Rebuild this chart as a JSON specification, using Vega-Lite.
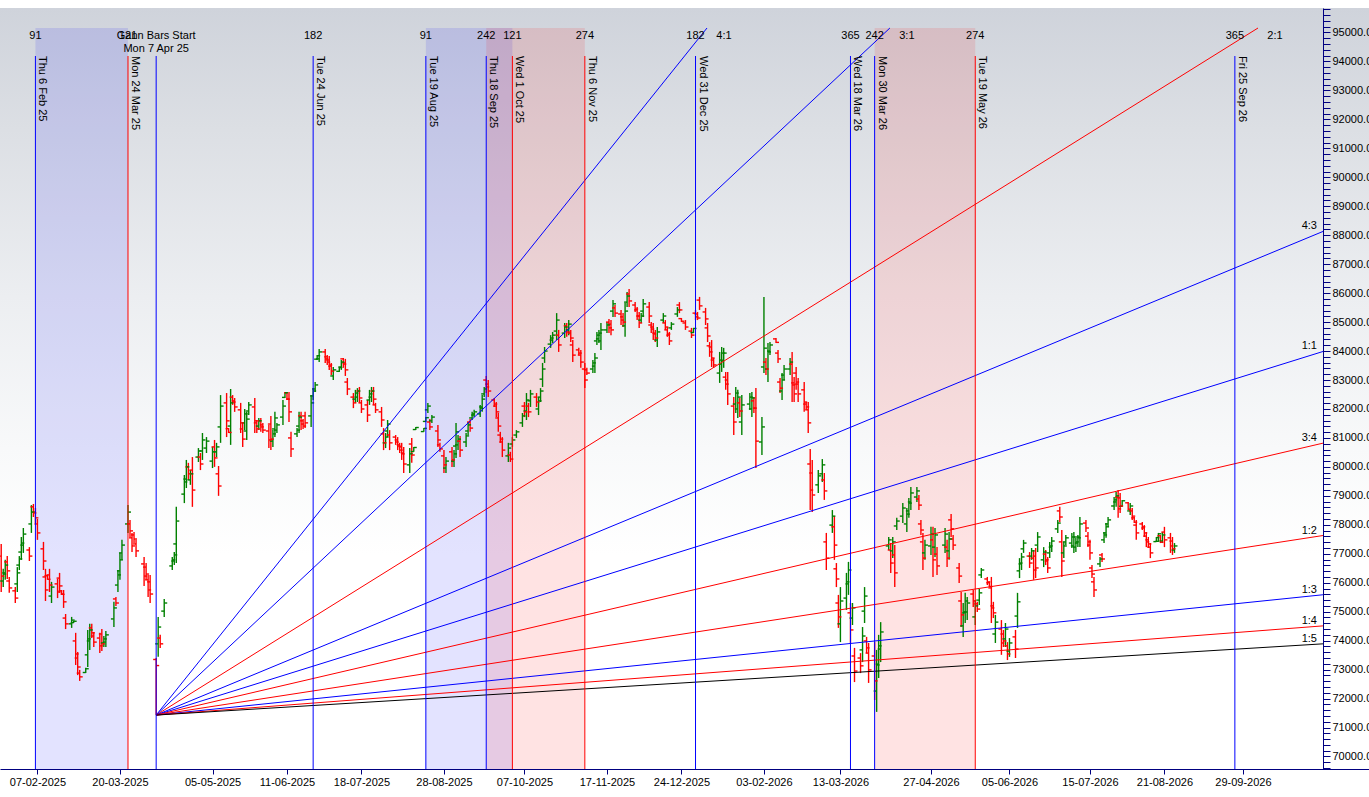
{
  "$schema": "https://vega.github.io/schema/vega-lite/v6.json",
  "width": 1369,
  "height": 761,
  "autosize": {"type": "none"},
  "padding": {"top": 8, "left": 0, "right": 0, "bottom": 28},
  "background": "#ffffff",
  "config": {
    "view": {"stroke": null, "fill": {"gradient": "linear", "x1": 0, "y1": 0, "x2": 0, "y2": 1, "stops": [{"offset": 0, "color": "#cfd3db"}, {"offset": 0.16, "color": "#dcdfe4"}, {"offset": 0.38, "color": "#eceef1"}, {"offset": 0.58, "color": "#f8f9fa"}, {"offset": 0.72, "color": "#ffffff"}]}},
    "text": {"font": "Liberation Sans", "fontSize": 11, "color": "#000000"},
    "axis": {"labelFont": "Liberation Sans", "labelFontSize": 11, "labelColor": "#000000", "domainColor": "#000080", "tickColor": "#000080", "grid": false}
  },
  "datasets": {
    "bands": [
      {"s": "2025-02-06", "e": "2025-03-24", "k": "blue"},
      {"s": "2025-08-19", "e": "2025-10-01", "k": "blue"},
      {"s": "2025-09-18", "e": "2025-11-06", "k": "red"},
      {"s": "2026-03-30", "e": "2026-05-19", "k": "red"}
    ],
    "vlines": [
      {"d": "2025-02-06", "k": "blue", "lab": "Thu 6 Feb 25", "n": "91"},
      {"d": "2025-03-24", "k": "red", "lab": "Mon 24 Mar 25", "n": "121"},
      {"d": "2025-04-07", "k": "blue", "lab": "", "n": ""},
      {"d": "2025-06-24", "k": "blue", "lab": "Tue 24 Jun 25", "n": "182"},
      {"d": "2025-08-19", "k": "blue", "lab": "Tue 19 Aug 25", "n": "91"},
      {"d": "2025-09-18", "k": "blue", "lab": "Thu 18 Sep 25", "n": "242"},
      {"d": "2025-10-01", "k": "red", "lab": "Wed 1 Oct 25", "n": "121"},
      {"d": "2025-11-06", "k": "red", "lab": "Thu 6 Nov 25", "n": "274"},
      {"d": "2025-12-31", "k": "blue", "lab": "Wed 31 Dec 25", "n": "182"},
      {"d": "2026-03-18", "k": "blue", "lab": "Wed 18 Mar 26", "n": "365"},
      {"d": "2026-03-30", "k": "blue", "lab": "Mon 30 Mar 26", "n": "242"},
      {"d": "2026-05-19", "k": "red", "lab": "Tue 19 May 26", "n": "274"},
      {"d": "2026-09-25", "k": "blue", "lab": "Fri 25 Sep 26", "n": "365"}
    ],
    "fan": [
      {"g": "4:1", "k": "blue", "d": "2025-04-07", "p": 71430},
      {"g": "4:1", "k": "blue", "d": "2026-01-05T17:00:00Z", "p": 95155, "lab": "4:1"},
      {"g": "3:1", "k": "blue", "d": "2025-04-07", "p": 71430},
      {"g": "3:1", "k": "blue", "d": "2026-04-06T14:00:00Z", "p": 95155, "lab": "3:1"},
      {"g": "2:1", "k": "red", "d": "2025-04-07", "p": 71430},
      {"g": "2:1", "k": "red", "d": "2026-10-06T12:00:00Z", "p": 95155, "lab": "2:1"},
      {"g": "4:3", "k": "blue", "d": "2025-04-07", "p": 71430},
      {"g": "4:3", "k": "blue", "d": "2026-11-07T19:00:00Z", "p": 88130, "lab": "4:3"},
      {"g": "1:1", "k": "blue", "d": "2025-04-07", "p": 71430},
      {"g": "1:1", "k": "blue", "d": "2026-11-07T19:00:00Z", "p": 83985, "lab": "1:1"},
      {"g": "3:4", "k": "red", "d": "2025-04-07", "p": 71430},
      {"g": "3:4", "k": "red", "d": "2026-11-07T19:00:00Z", "p": 80820, "lab": "3:4"},
      {"g": "1:2", "k": "red", "d": "2025-04-07", "p": 71430},
      {"g": "1:2", "k": "red", "d": "2026-11-07T19:00:00Z", "p": 77630, "lab": "1:2"},
      {"g": "1:3", "k": "blue", "d": "2025-04-07", "p": 71430},
      {"g": "1:3", "k": "blue", "d": "2026-11-07T19:00:00Z", "p": 75585, "lab": "1:3"},
      {"g": "1:4", "k": "red", "d": "2025-04-07", "p": 71430},
      {"g": "1:4", "k": "red", "d": "2026-11-07T19:00:00Z", "p": 74510, "lab": "1:4"},
      {"g": "1:5", "k": "black", "d": "2025-04-07", "p": 71430},
      {"g": "1:5", "k": "black", "d": "2026-11-07T19:00:00Z", "p": 73890, "lab": "1:5"}
    ],
    "ohlc": [
      {"d":"2025-01-20","o":76920,"h":77340,"l":75680,"c":76230},
      {"d":"2025-01-21","o":76060,"h":76480,"l":75850,"c":76300},
      {"d":"2025-01-22","o":76340,"h":76790,"l":76100,"c":76610},
      {"d":"2025-01-23","o":76720,"h":76920,"l":76130,"c":76410},
      {"d":"2025-01-24","o":76060,"h":76200,"l":75650,"c":75820},
      {"d":"2025-01-27","o":75720,"h":75850,"l":75300,"c":75470},
      {"d":"2025-01-28","o":75960,"h":76540,"l":75680,"c":76340},
      {"d":"2025-01-29","o":76610,"h":76920,"l":76440,"c":76820},
      {"d":"2025-01-30","o":77060,"h":77580,"l":76790,"c":77370},
      {"d":"2025-01-31","o":77300,"h":77890,"l":77030,"c":77680},
      {"d":"2025-02-03","o":77130,"h":77230,"l":76750,"c":76920},
      {"d":"2025-02-04","o":78030,"h":78680,"l":77720,"c":78440},
      {"d":"2025-02-05","o":78620,"h":78720,"l":78270,"c":78410},
      {"d":"2025-02-06","o":78440,"h":78580,"l":78060,"c":78240},
      {"d":"2025-02-07","o":78030,"h":78200,"l":77480,"c":77720},
      {"d":"2025-02-10","o":77170,"h":77410,"l":76440,"c":76750},
      {"d":"2025-02-11","o":76200,"h":76480,"l":75370,"c":75750},
      {"d":"2025-02-12","o":76240,"h":76270,"l":76100,"c":76120},
      {"d":"2025-02-13","o":76270,"h":76480,"l":75680,"c":75920},
      {"d":"2025-02-14","o":75540,"h":76030,"l":75300,"c":75850},
      {"d":"2025-02-17","o":75960,"h":76130,"l":75470,"c":75680},
      {"d":"2025-02-18","o":76160,"h":76340,"l":75650,"c":75890},
      {"d":"2025-02-19","o":75720,"h":75750,"l":75580,"c":75600},
      {"d":"2025-02-20","o":75610,"h":75750,"l":75130,"c":75340},
      {"d":"2025-02-21","o":74780,"h":74920,"l":74400,"c":74580},
      {"d":"2025-02-24","o":74580,"h":74820,"l":74440,"c":74710},
      {"d":"2025-02-25","o":74620,"h":74680,"l":74610,"c":74670},
      {"d":"2025-02-26","o":73990,"h":74270,"l":73160,"c":73540},
      {"d":"2025-02-27","o":73400,"h":73610,"l":72810,"c":73090},
      {"d":"2025-02-28","o":72880,"h":72990,"l":72610,"c":72750},
      {"d":"2025-03-03","o":72900,"h":73060,"l":72880,"c":73030},
      {"d":"2025-03-04","o":73510,"h":74370,"l":73090,"c":74060},
      {"d":"2025-03-05","o":73990,"h":74580,"l":73680,"c":74370},
      {"d":"2025-03-06","o":74440,"h":74580,"l":74090,"c":74270},
      {"d":"2025-03-07","o":74160,"h":74300,"l":73780,"c":73950},
      {"d":"2025-03-10","o":74090,"h":74270,"l":73570,"c":73820},
      {"d":"2025-03-11","o":74230,"h":74400,"l":73640,"c":73890},
      {"d":"2025-03-12","o":73920,"h":74160,"l":73780,"c":74060},
      {"d":"2025-03-13","o":73950,"h":74330,"l":73780,"c":74200},
      {"d":"2025-03-17","o":74750,"h":75340,"l":74470,"c":75130},
      {"d":"2025-03-18","o":75440,"h":75510,"l":75200,"c":75300},
      {"d":"2025-03-19","o":75920,"h":76440,"l":75680,"c":76270},
      {"d":"2025-03-20","o":76410,"h":77030,"l":76100,"c":76790},
      {"d":"2025-03-21","o":77030,"h":77480,"l":76790,"c":77300},
      {"d":"2025-03-24","o":78030,"h":78680,"l":77720,"c":78440},
      {"d":"2025-03-25","o":78030,"h":78170,"l":77580,"c":77790},
      {"d":"2025-03-26","o":77550,"h":77720,"l":77060,"c":77270},
      {"d":"2025-03-27","o":77650,"h":77750,"l":77370,"c":77510},
      {"d":"2025-03-28","o":77340,"h":77480,"l":76890,"c":77100},
      {"d":"2025-04-01","o":76650,"h":76890,"l":75890,"c":76230},
      {"d":"2025-04-02","o":76540,"h":76680,"l":76100,"c":76300},
      {"d":"2025-04-03","o":76100,"h":76270,"l":75510,"c":75750},
      {"d":"2025-04-04","o":76030,"h":76270,"l":75300,"c":75610},
      {"d":"2025-04-07","o":73350,"h":73400,"l":71430,"c":73140},
      {"d":"2025-04-08","o":73890,"h":74820,"l":73440,"c":74470},
      {"d":"2025-04-09","o":74090,"h":74200,"l":73750,"c":73890},
      {"d":"2025-04-11","o":75020,"h":75440,"l":74820,"c":75300},
      {"d":"2025-04-15","o":76580,"h":76890,"l":76440,"c":76790},
      {"d":"2025-04-16","o":76750,"h":77060,"l":76610,"c":76960},
      {"d":"2025-04-17","o":77340,"h":78620,"l":76680,"c":78130},
      {"d":"2025-04-21","o":79060,"h":79720,"l":78750,"c":79480},
      {"d":"2025-04-22","o":79580,"h":80240,"l":79270,"c":80000},
      {"d":"2025-04-23","o":80000,"h":80140,"l":79550,"c":79760},
      {"d":"2025-04-24","o":79550,"h":79890,"l":79380,"c":79760},
      {"d":"2025-04-25","o":79890,"h":80340,"l":78620,"c":79200},
      {"d":"2025-04-28","o":80340,"h":80650,"l":80170,"c":80550},
      {"d":"2025-04-29","o":80340,"h":80480,"l":79890,"c":80100},
      {"d":"2025-04-30","o":80550,"h":81170,"l":80240,"c":80930},
      {"d":"2025-05-02","o":80650,"h":81030,"l":80480,"c":80890},
      {"d":"2025-05-05","o":80200,"h":80690,"l":79960,"c":80520},
      {"d":"2025-05-06","o":80690,"h":80930,"l":80000,"c":80310},
      {"d":"2025-05-07","o":80520,"h":80830,"l":80340,"c":80690},
      {"d":"2025-05-08","o":79760,"h":80030,"l":79000,"c":79340},
      {"d":"2025-05-09","o":81380,"h":82480,"l":80830,"c":82100},
      {"d":"2025-05-12","o":82210,"h":82550,"l":81030,"c":81590},
      {"d":"2025-05-13","o":81320,"h":81340,"l":81170,"c":81190},
      {"d":"2025-05-14","o":81410,"h":82690,"l":80760,"c":82210},
      {"d":"2025-05-15","o":82410,"h":82480,"l":82140,"c":82240},
      {"d":"2025-05-16","o":82280,"h":82380,"l":81900,"c":82070},
      {"d":"2025-05-19","o":81970,"h":82210,"l":81170,"c":81520},
      {"d":"2025-05-20","o":81310,"h":81520,"l":80690,"c":80960},
      {"d":"2025-05-21","o":81520,"h":82000,"l":81270,"c":81830},
      {"d":"2025-05-22","o":81240,"h":81900,"l":80930,"c":81650},
      {"d":"2025-05-23","o":81930,"h":82240,"l":81790,"c":82140},
      {"d":"2025-05-26","o":82070,"h":82380,"l":81170,"c":81590},
      {"d":"2025-05-27","o":81520,"h":81620,"l":81170,"c":81310},
      {"d":"2025-05-28","o":81410,"h":81690,"l":81270,"c":81590},
      {"d":"2025-05-29","o":81590,"h":81690,"l":81210,"c":81380},
      {"d":"2025-05-30","o":81450,"h":81520,"l":81170,"c":81270},
      {"d":"2025-06-02","o":81240,"h":81450,"l":80650,"c":80930},
      {"d":"2025-06-03","o":81480,"h":81760,"l":80580,"c":80960},
      {"d":"2025-06-04","o":80890,"h":81270,"l":80690,"c":81140},
      {"d":"2025-06-05","o":81310,"h":81900,"l":81030,"c":81690},
      {"d":"2025-06-06","o":81270,"h":81520,"l":81170,"c":81450},
      {"d":"2025-06-09","o":81720,"h":82310,"l":81450,"c":82100},
      {"d":"2025-06-10","o":82400,"h":82590,"l":82380,"c":82560},
      {"d":"2025-06-11","o":82560,"h":82590,"l":82310,"c":82340},
      {"d":"2025-06-12","o":82340,"h":82590,"l":81550,"c":81900},
      {"d":"2025-06-13","o":81000,"h":81210,"l":80340,"c":80620},
      {"d":"2025-06-16","o":81140,"h":81340,"l":81030,"c":81270},
      {"d":"2025-06-17","o":81410,"h":81900,"l":81170,"c":81720},
      {"d":"2025-06-18","o":81760,"h":81900,"l":81270,"c":81480},
      {"d":"2025-06-19","o":81590,"h":81650,"l":81310,"c":81410},
      {"d":"2025-06-20","o":81760,"h":81900,"l":81340,"c":81520},
      {"d":"2025-06-23","o":81760,"h":82480,"l":81380,"c":82210},
      {"d":"2025-06-24","o":82450,"h":82720,"l":82310,"c":82620},
      {"d":"2025-06-25","o":82690,"h":82930,"l":82590,"c":82830},
      {"d":"2025-06-26","o":83720,"h":83860,"l":83690,"c":83840},
      {"d":"2025-06-27","o":83730,"h":84070,"l":83620,"c":83970},
      {"d":"2025-06-30","o":83970,"h":84070,"l":83590,"c":83730},
      {"d":"2025-07-01","o":83800,"h":83860,"l":83520,"c":83620},
      {"d":"2025-07-02","o":83690,"h":83830,"l":83350,"c":83520},
      {"d":"2025-07-03","o":83480,"h":83590,"l":83170,"c":83310},
      {"d":"2025-07-04","o":83140,"h":83450,"l":83000,"c":83350},
      {"d":"2025-07-07","o":83300,"h":83450,"l":83280,"c":83430},
      {"d":"2025-07-08","o":83450,"h":83690,"l":83350,"c":83620},
      {"d":"2025-07-09","o":83730,"h":83760,"l":83420,"c":83550},
      {"d":"2025-07-10","o":83590,"h":83730,"l":83140,"c":83350},
      {"d":"2025-07-11","o":82930,"h":83070,"l":82480,"c":82690},
      {"d":"2025-07-14","o":82410,"h":82550,"l":82030,"c":82210},
      {"d":"2025-07-15","o":82340,"h":82660,"l":82210,"c":82550},
      {"d":"2025-07-16","o":82410,"h":82720,"l":82240,"c":82620},
      {"d":"2025-07-17","o":82620,"h":82760,"l":82210,"c":82380},
      {"d":"2025-07-18","o":82210,"h":82310,"l":81860,"c":82000},
      {"d":"2025-07-21","o":82140,"h":82310,"l":81550,"c":81790},
      {"d":"2025-07-22","o":82310,"h":82660,"l":82140,"c":82520},
      {"d":"2025-07-23","o":82410,"h":82760,"l":82240,"c":82620},
      {"d":"2025-07-24","o":82620,"h":82760,"l":82140,"c":82340},
      {"d":"2025-07-25","o":82140,"h":82210,"l":81860,"c":81970},
      {"d":"2025-07-28","o":81900,"h":82070,"l":81380,"c":81620},
      {"d":"2025-07-29","o":81140,"h":81340,"l":80580,"c":80830},
      {"d":"2025-07-30","o":80830,"h":81170,"l":80650,"c":81030},
      {"d":"2025-07-31","o":81240,"h":81620,"l":81030,"c":81480},
      {"d":"2025-08-01","o":81100,"h":81270,"l":80580,"c":80830},
      {"d":"2025-08-04","o":81030,"h":81100,"l":80760,"c":80860},
      {"d":"2025-08-05","o":80930,"h":81030,"l":80580,"c":80720},
      {"d":"2025-08-06","o":80760,"h":80830,"l":80480,"c":80580},
      {"d":"2025-08-07","o":80690,"h":80830,"l":80240,"c":80450},
      {"d":"2025-08-08","o":80480,"h":80690,"l":79790,"c":80100},
      {"d":"2025-08-11","o":80070,"h":80650,"l":79790,"c":80450},
      {"d":"2025-08-12","o":80790,"h":81000,"l":80140,"c":80410},
      {"d":"2025-08-13","o":80530,"h":80690,"l":80520,"c":80670},
      {"d":"2025-08-14","o":81290,"h":81380,"l":81270,"c":81360},
      {"d":"2025-08-18","o":81220,"h":81340,"l":81210,"c":81330},
      {"d":"2025-08-19","o":81570,"h":81720,"l":81550,"c":81700},
      {"d":"2025-08-20","o":81970,"h":82210,"l":81860,"c":82100},
      {"d":"2025-08-21","o":81550,"h":81650,"l":81270,"c":81380},
      {"d":"2025-08-22","o":81590,"h":81790,"l":81520,"c":81720},
      {"d":"2025-08-25","o":81240,"h":81450,"l":80690,"c":80930},
      {"d":"2025-08-26","o":80760,"h":80830,"l":80520,"c":80620},
      {"d":"2025-08-28","o":80380,"h":80580,"l":79790,"c":80070},
      {"d":"2025-08-29","o":79960,"h":80340,"l":79790,"c":80200},
      {"d":"2025-09-01","o":80520,"h":80690,"l":80000,"c":80240},
      {"d":"2025-09-02","o":80200,"h":80580,"l":80000,"c":80450},
      {"d":"2025-09-03","o":80720,"h":81520,"l":80310,"c":81210},
      {"d":"2025-09-04","o":80760,"h":81100,"l":80580,"c":80960},
      {"d":"2025-09-05","o":80890,"h":81070,"l":80340,"c":80580},
      {"d":"2025-09-08","o":80860,"h":81170,"l":80690,"c":81070},
      {"d":"2025-09-09","o":81240,"h":81550,"l":81100,"c":81450},
      {"d":"2025-09-10","o":81550,"h":81650,"l":81210,"c":81340},
      {"d":"2025-09-11","o":81690,"h":81900,"l":81620,"c":81830},
      {"d":"2025-09-12","o":81790,"h":81970,"l":81720,"c":81900},
      {"d":"2025-09-15","o":81830,"h":82140,"l":81720,"c":82030},
      {"d":"2025-09-16","o":82070,"h":82480,"l":81900,"c":82340},
      {"d":"2025-09-17","o":82520,"h":82760,"l":82410,"c":82690},
      {"d":"2025-09-18","o":83000,"h":83140,"l":82550,"c":82760},
      {"d":"2025-09-19","o":82860,"h":83000,"l":82410,"c":82620},
      {"d":"2025-09-22","o":82310,"h":82380,"l":82070,"c":82170},
      {"d":"2025-09-23","o":82100,"h":82240,"l":81720,"c":81900},
      {"d":"2025-09-24","o":81690,"h":81860,"l":81210,"c":81410},
      {"d":"2025-09-25","o":81100,"h":81210,"l":80830,"c":80960},
      {"d":"2025-09-26","o":80860,"h":81030,"l":80340,"c":80580},
      {"d":"2025-09-29","o":80380,"h":80830,"l":80170,"c":80650},
      {"d":"2025-09-30","o":80410,"h":80520,"l":80170,"c":80270},
      {"d":"2025-10-01","o":80790,"h":81030,"l":80690,"c":80930},
      {"d":"2025-10-03","o":81100,"h":81270,"l":81000,"c":81210},
      {"d":"2025-10-06","o":81520,"h":81860,"l":81380,"c":81760},
      {"d":"2025-10-07","o":82100,"h":82240,"l":81720,"c":81900},
      {"d":"2025-10-08","o":81930,"h":82550,"l":81620,"c":82310},
      {"d":"2025-10-09","o":82100,"h":82210,"l":81720,"c":81900},
      {"d":"2025-10-10","o":82280,"h":82660,"l":82070,"c":82520},
      {"d":"2025-10-13","o":82410,"h":82550,"l":82070,"c":82240},
      {"d":"2025-10-14","o":82000,"h":82410,"l":81790,"c":82280},
      {"d":"2025-10-15","o":82410,"h":82720,"l":82240,"c":82620},
      {"d":"2025-10-16","o":83030,"h":83590,"l":82760,"c":83380},
      {"d":"2025-10-17","o":83760,"h":84140,"l":83590,"c":84000},
      {"d":"2025-10-20","o":84240,"h":84550,"l":84110,"c":84450},
      {"d":"2025-10-21","o":84380,"h":84660,"l":84280,"c":84550},
      {"d":"2025-10-23","o":84690,"h":85310,"l":84380,"c":85070},
      {"d":"2025-10-24","o":84550,"h":84730,"l":83970,"c":84210},
      {"d":"2025-10-27","o":84620,"h":84970,"l":84450,"c":84830},
      {"d":"2025-10-28","o":84870,"h":84970,"l":84490,"c":84660},
      {"d":"2025-10-29","o":84730,"h":85070,"l":84550,"c":84930},
      {"d":"2025-10-30","o":84620,"h":84730,"l":84310,"c":84450},
      {"d":"2025-10-31","o":84210,"h":84380,"l":83620,"c":83860},
      {"d":"2025-11-03","o":84040,"h":84110,"l":83860,"c":83930},
      {"d":"2025-11-04","o":83860,"h":84040,"l":83420,"c":83620},
      {"d":"2025-11-06","o":83380,"h":83590,"l":82720,"c":83000},
      {"d":"2025-11-07","o":83350,"h":83420,"l":83170,"c":83240},
      {"d":"2025-11-10","o":83380,"h":83690,"l":83240,"c":83590},
      {"d":"2025-11-11","o":83480,"h":83930,"l":83240,"c":83760},
      {"d":"2025-11-12","o":84350,"h":84660,"l":84210,"c":84550},
      {"d":"2025-11-13","o":84420,"h":84730,"l":84280,"c":84620},
      {"d":"2025-11-14","o":84350,"h":84970,"l":84040,"c":84730},
      {"d":"2025-11-17","o":84730,"h":85000,"l":84620,"c":84900},
      {"d":"2025-11-18","o":85000,"h":85110,"l":84620,"c":84800},
      {"d":"2025-11-19","o":84930,"h":85070,"l":84550,"c":84730},
      {"d":"2025-11-20","o":85380,"h":85760,"l":85180,"c":85630},
      {"d":"2025-11-21","o":85490,"h":85590,"l":85180,"c":85310},
      {"d":"2025-11-24","o":85280,"h":85420,"l":84900,"c":85070},
      {"d":"2025-11-25","o":85180,"h":85310,"l":84830,"c":85000},
      {"d":"2025-11-26","o":84870,"h":85660,"l":84490,"c":85380},
      {"d":"2025-11-27","o":85690,"h":86040,"l":85520,"c":85900},
      {"d":"2025-11-28","o":85970,"h":86140,"l":85520,"c":85730},
      {"d":"2025-12-01","o":85590,"h":85690,"l":85350,"c":85450},
      {"d":"2025-12-02","o":85420,"h":85520,"l":85070,"c":85210},
      {"d":"2025-12-03","o":85210,"h":85350,"l":84800,"c":84970},
      {"d":"2025-12-04","o":85070,"h":85310,"l":84970,"c":85210},
      {"d":"2025-12-05","o":85380,"h":85800,"l":85180,"c":85630},
      {"d":"2025-12-08","o":85520,"h":85690,"l":84970,"c":85210},
      {"d":"2025-12-09","o":84900,"h":85000,"l":84620,"c":84760},
      {"d":"2025-12-10","o":84830,"h":84970,"l":84380,"c":84590},
      {"d":"2025-12-11","o":84620,"h":84730,"l":84310,"c":84450},
      {"d":"2025-12-12","o":84380,"h":84830,"l":84140,"c":84660},
      {"d":"2025-12-15","o":85070,"h":85310,"l":84970,"c":85210},
      {"d":"2025-12-16","o":84970,"h":85070,"l":84730,"c":84830},
      {"d":"2025-12-17","o":84730,"h":84830,"l":84490,"c":84590},
      {"d":"2025-12-18","o":84550,"h":84660,"l":84210,"c":84350},
      {"d":"2025-12-19","o":84800,"h":85000,"l":84730,"c":84930},
      {"d":"2025-12-22","o":85280,"h":85520,"l":85180,"c":85420},
      {"d":"2025-12-23","o":85590,"h":85690,"l":85310,"c":85420},
      {"d":"2025-12-24","o":85120,"h":85140,"l":85000,"c":85030},
      {"d":"2025-12-26","o":84970,"h":85070,"l":84730,"c":84830},
      {"d":"2025-12-29","o":84690,"h":84800,"l":84450,"c":84550},
      {"d":"2025-12-30","o":84640,"h":84800,"l":84620,"c":84780},
      {"d":"2025-12-31","o":85310,"h":85420,"l":85070,"c":85180},
      {"d":"2026-01-01","o":85280,"h":85350,"l":85070,"c":85140},
      {"d":"2026-01-02","o":85760,"h":85870,"l":85420,"c":85560},
      {"d":"2026-01-05","o":85350,"h":85490,"l":84900,"c":85110},
      {"d":"2026-01-06","o":84800,"h":84970,"l":84310,"c":84520},
      {"d":"2026-01-07","o":84180,"h":84310,"l":83800,"c":83970},
      {"d":"2026-01-08","o":84140,"h":84380,"l":83450,"c":83760},
      {"d":"2026-01-09","o":83690,"h":83760,"l":83420,"c":83520},
      {"d":"2026-01-12","o":83240,"h":83970,"l":82900,"c":83690},
      {"d":"2026-01-13","o":83550,"h":84140,"l":83280,"c":83930},
      {"d":"2026-01-14","o":83660,"h":84110,"l":83420,"c":83930},
      {"d":"2026-01-15","o":83100,"h":83280,"l":82660,"c":82860},
      {"d":"2026-01-16","o":83000,"h":83280,"l":82140,"c":82520},
      {"d":"2026-01-19","o":82100,"h":82410,"l":81100,"c":81550},
      {"d":"2026-01-20","o":82170,"h":82760,"l":81860,"c":82550},
      {"d":"2026-01-21","o":82000,"h":82660,"l":81690,"c":82410},
      {"d":"2026-01-22","o":82210,"h":82380,"l":81720,"c":81930},
      {"d":"2026-01-23","o":81550,"h":82480,"l":81100,"c":82140},
      {"d":"2026-01-27","o":82170,"h":82550,"l":81970,"c":82410},
      {"d":"2026-01-28","o":82000,"h":82590,"l":81720,"c":82380},
      {"d":"2026-01-29","o":82280,"h":82410,"l":81860,"c":82030},
      {"d":"2026-01-30","o":82030,"h":82720,"l":79960,"c":80890},
      {"d":"2026-02-02","o":80860,"h":81720,"l":80410,"c":81380},
      {"d":"2026-02-03","o":83450,"h":85870,"l":83240,"c":84100},
      {"d":"2026-02-04","o":83620,"h":83760,"l":83170,"c":83380},
      {"d":"2026-02-05","o":83380,"h":84280,"l":82930,"c":83970},
      {"d":"2026-02-06","o":84000,"h":84310,"l":83860,"c":84210},
      {"d":"2026-02-09","o":84420,"h":84450,"l":84280,"c":84300},
      {"d":"2026-02-10","o":83930,"h":84040,"l":83590,"c":83730},
      {"d":"2026-02-11","o":82930,"h":83070,"l":82550,"c":82720},
      {"d":"2026-02-12","o":82620,"h":83240,"l":82310,"c":83000},
      {"d":"2026-02-13","o":83170,"h":83520,"l":83000,"c":83380},
      {"d":"2026-02-16","o":83380,"h":83760,"l":83170,"c":83620},
      {"d":"2026-02-17","o":83550,"h":83970,"l":82240,"c":82830},
      {"d":"2026-02-18","o":82900,"h":83100,"l":82240,"c":82520},
      {"d":"2026-02-19","o":83240,"h":83450,"l":82660,"c":82930},
      {"d":"2026-02-20","o":82860,"h":83070,"l":82240,"c":82520},
      {"d":"2026-02-23","o":82660,"h":82930,"l":81900,"c":82240},
      {"d":"2026-02-24","o":82170,"h":82240,"l":81970,"c":82070},
      {"d":"2026-02-25","o":81970,"h":82240,"l":81170,"c":81520},
      {"d":"2026-02-26","o":80100,"h":80620,"l":78510,"c":79200},
      {"d":"2026-02-27","o":79790,"h":80240,"l":78440,"c":79030},
      {"d":"2026-03-02","o":79380,"h":79890,"l":79100,"c":79690},
      {"d":"2026-03-04","o":79760,"h":80270,"l":79480,"c":80070},
      {"d":"2026-03-05","o":79550,"h":79790,"l":78860,"c":79170},
      {"d":"2026-03-06","o":77410,"h":77720,"l":76440,"c":76850},
      {"d":"2026-03-09","o":77990,"h":78510,"l":77720,"c":78300},
      {"d":"2026-03-10","o":77930,"h":78300,"l":76790,"c":77300},
      {"d":"2026-03-11","o":76480,"h":76680,"l":75850,"c":76130},
      {"d":"2026-03-12","o":75300,"h":75580,"l":74440,"c":74820},
      {"d":"2026-03-13","o":74580,"h":75850,"l":73950,"c":75370},
      {"d":"2026-03-16","o":75470,"h":76340,"l":75060,"c":76030},
      {"d":"2026-03-17","o":75960,"h":76720,"l":75580,"c":76440},
      {"d":"2026-03-18","o":74960,"h":75300,"l":73920,"c":74370},
      {"d":"2026-03-19","o":74780,"h":75300,"l":74540,"c":75130},
      {"d":"2026-03-20","o":73470,"h":73750,"l":72570,"c":72950},
      {"d":"2026-03-23","o":73400,"h":73570,"l":72880,"c":73130},
      {"d":"2026-03-24","o":73680,"h":74470,"l":73260,"c":74160},
      {"d":"2026-03-25","o":75020,"h":75850,"l":74610,"c":75540},
      {"d":"2026-03-26","o":73990,"h":74130,"l":73570,"c":73750},
      {"d":"2026-03-27","o":73570,"h":73920,"l":72540,"c":72990},
      {"d":"2026-03-30","o":73470,"h":73950,"l":71950,"c":72610},
      {"d":"2026-03-31","o":72260,"h":73680,"l":71540,"c":73160},
      {"d":"2026-04-01","o":73190,"h":74200,"l":72710,"c":73820},
      {"d":"2026-04-02","o":73710,"h":74640,"l":73260,"c":74300},
      {"d":"2026-04-06","o":77270,"h":77580,"l":77130,"c":77480},
      {"d":"2026-04-07","o":77130,"h":77370,"l":76340,"c":76680},
      {"d":"2026-04-08","o":77100,"h":77580,"l":76850,"c":77410},
      {"d":"2026-04-09","o":76960,"h":77300,"l":75850,"c":76340},
      {"d":"2026-04-10","o":77960,"h":78240,"l":77820,"c":78130},
      {"d":"2026-04-13","o":78300,"h":78750,"l":78060,"c":78580},
      {"d":"2026-04-15","o":78030,"h":78580,"l":77750,"c":78370},
      {"d":"2026-04-16","o":78480,"h":78930,"l":78240,"c":78750},
      {"d":"2026-04-17","o":78790,"h":79310,"l":78510,"c":79100},
      {"d":"2026-04-20","o":78960,"h":79310,"l":78790,"c":79170},
      {"d":"2026-04-21","o":78890,"h":79030,"l":78510,"c":78680},
      {"d":"2026-04-22","o":78030,"h":78170,"l":77650,"c":77820},
      {"d":"2026-04-23","o":77410,"h":77720,"l":76440,"c":76850},
      {"d":"2026-04-24","o":77030,"h":77480,"l":76790,"c":77300},
      {"d":"2026-04-27","o":77270,"h":77930,"l":76960,"c":77680},
      {"d":"2026-04-28","o":77480,"h":77930,"l":76200,"c":76790},
      {"d":"2026-04-29","o":77230,"h":77890,"l":76890,"c":77650},
      {"d":"2026-04-30","o":76990,"h":77230,"l":76270,"c":76580},
      {"d":"2026-05-04","o":77300,"h":77890,"l":77030,"c":77680},
      {"d":"2026-05-05","o":77230,"h":77480,"l":76540,"c":76850},
      {"d":"2026-05-06","o":77100,"h":77750,"l":76790,"c":77510},
      {"d":"2026-05-07","o":78170,"h":78370,"l":77580,"c":77860},
      {"d":"2026-05-08","o":77510,"h":77650,"l":77130,"c":77300},
      {"d":"2026-05-11","o":76510,"h":76680,"l":75990,"c":76230},
      {"d":"2026-05-12","o":75370,"h":75680,"l":74470,"c":74890},
      {"d":"2026-05-13","o":74510,"h":75300,"l":74130,"c":74990},
      {"d":"2026-05-14","o":74960,"h":75650,"l":74610,"c":75370},
      {"d":"2026-05-15","o":74990,"h":75510,"l":74710,"c":75300},
      {"d":"2026-05-18","o":75610,"h":75750,"l":75160,"c":75370},
      {"d":"2026-05-19","o":74820,"h":75400,"l":74540,"c":75200},
      {"d":"2026-05-20","o":75270,"h":75340,"l":74990,"c":75090},
      {"d":"2026-05-21","o":75400,"h":75780,"l":75230,"c":75650},
      {"d":"2026-05-22","o":76270,"h":76510,"l":76160,"c":76440},
      {"d":"2026-05-25","o":76130,"h":76200,"l":75920,"c":76030},
      {"d":"2026-05-26","o":76000,"h":76030,"l":75850,"c":75870},
      {"d":"2026-05-27","o":75820,"h":76200,"l":74610,"c":75130},
      {"d":"2026-05-28","o":75200,"h":75340,"l":74780,"c":74960},
      {"d":"2026-05-29","o":74230,"h":74890,"l":73920,"c":74640},
      {"d":"2026-06-01","o":74400,"h":74710,"l":73510,"c":73920},
      {"d":"2026-06-02","o":74230,"h":74370,"l":73780,"c":73990},
      {"d":"2026-06-03","o":74060,"h":74610,"l":73780,"c":74400},
      {"d":"2026-06-04","o":73820,"h":73950,"l":73330,"c":73540},
      {"d":"2026-06-05","o":73640,"h":74090,"l":73440,"c":73920},
      {"d":"2026-06-08","o":74130,"h":74370,"l":73400,"c":73710},
      {"d":"2026-06-09","o":74850,"h":75650,"l":74440,"c":75340},
      {"d":"2026-06-10","o":76410,"h":76850,"l":76160,"c":76680},
      {"d":"2026-06-11","o":76650,"h":77030,"l":76440,"c":76890},
      {"d":"2026-06-12","o":77170,"h":77480,"l":77030,"c":77370},
      {"d":"2026-06-15","o":76920,"h":77060,"l":76510,"c":76680},
      {"d":"2026-06-16","o":76920,"h":77200,"l":76790,"c":77100},
      {"d":"2026-06-17","o":76850,"h":77130,"l":76100,"c":76440},
      {"d":"2026-06-18","o":76920,"h":77200,"l":76160,"c":76510},
      {"d":"2026-06-19","o":77300,"h":77750,"l":77060,"c":77580},
      {"d":"2026-06-22","o":76790,"h":77230,"l":76540,"c":77060},
      {"d":"2026-06-23","o":76990,"h":77130,"l":76610,"c":76790},
      {"d":"2026-06-24","o":76750,"h":76890,"l":76340,"c":76510},
      {"d":"2026-06-25","o":77030,"h":77410,"l":76850,"c":77270},
      {"d":"2026-06-26","o":77230,"h":77580,"l":77060,"c":77440},
      {"d":"2026-06-29","o":77860,"h":78170,"l":77720,"c":78060},
      {"d":"2026-06-30","o":78480,"h":78620,"l":78100,"c":78270},
      {"d":"2026-07-01","o":77410,"h":77820,"l":76200,"c":76750},
      {"d":"2026-07-02","o":77030,"h":77410,"l":76850,"c":77270},
      {"d":"2026-07-03","o":77410,"h":77650,"l":77300,"c":77550},
      {"d":"2026-07-06","o":77370,"h":77720,"l":77200,"c":77580},
      {"d":"2026-07-07","o":77270,"h":77750,"l":77030,"c":77580},
      {"d":"2026-07-08","o":77230,"h":77550,"l":77060,"c":77410},
      {"d":"2026-07-09","o":77370,"h":77650,"l":77230,"c":77550},
      {"d":"2026-07-10","o":77580,"h":78270,"l":77230,"c":78030},
      {"d":"2026-07-13","o":78060,"h":78170,"l":77750,"c":77890},
      {"d":"2026-07-14","o":77610,"h":77750,"l":77230,"c":77410},
      {"d":"2026-07-15","o":77300,"h":77480,"l":76790,"c":77030},
      {"d":"2026-07-16","o":76510,"h":76610,"l":76160,"c":76300},
      {"d":"2026-07-17","o":76030,"h":76200,"l":75510,"c":75750},
      {"d":"2026-07-20","o":76650,"h":76890,"l":76540,"c":76820},
      {"d":"2026-07-21","o":76960,"h":77030,"l":76720,"c":76820},
      {"d":"2026-07-22","o":77480,"h":77750,"l":77370,"c":77650},
      {"d":"2026-07-23","o":77720,"h":78060,"l":77550,"c":77930},
      {"d":"2026-07-24","o":78030,"h":78270,"l":77930,"c":78170},
      {"d":"2026-07-27","o":78650,"h":78960,"l":78510,"c":78860},
      {"d":"2026-07-28","o":78790,"h":79130,"l":78620,"c":79000},
      {"d":"2026-07-29","o":78960,"h":79200,"l":78240,"c":78550},
      {"d":"2026-07-30","o":78930,"h":79100,"l":78410,"c":78650},
      {"d":"2026-07-31","o":78640,"h":78860,"l":78620,"c":78830},
      {"d":"2026-08-03","o":78760,"h":78790,"l":78510,"c":78540},
      {"d":"2026-08-04","o":78480,"h":78750,"l":78340,"c":78650},
      {"d":"2026-08-05","o":78480,"h":78580,"l":78170,"c":78300},
      {"d":"2026-08-06","o":78240,"h":78270,"l":78060,"c":78090},
      {"d":"2026-08-07","o":77990,"h":78170,"l":77480,"c":77720},
      {"d":"2026-08-10","o":78030,"h":78100,"l":77820,"c":77930},
      {"d":"2026-08-11","o":77890,"h":77990,"l":77580,"c":77720},
      {"d":"2026-08-12","o":77610,"h":77750,"l":77230,"c":77410},
      {"d":"2026-08-13","o":77480,"h":77580,"l":77200,"c":77340},
      {"d":"2026-08-14","o":77230,"h":77370,"l":76850,"c":77030},
      {"d":"2026-08-17","o":77420,"h":77580,"l":77410,"c":77560},
      {"d":"2026-08-18","o":77430,"h":77720,"l":77410,"c":77690},
      {"d":"2026-08-19","o":77620,"h":77650,"l":77370,"c":77400},
      {"d":"2026-08-20","o":77440,"h":77750,"l":77370,"c":77650},
      {"d":"2026-08-21","o":77750,"h":77930,"l":77230,"c":77480},
      {"d":"2026-08-24","o":77550,"h":77720,"l":77030,"c":77270},
      {"d":"2026-08-25","o":77440,"h":77580,"l":76960,"c":77170},
      {"d":"2026-08-26","o":77130,"h":77370,"l":77030,"c":77270}
    ]
  },
  "layer": [
    {
      "data": {"name": "bands"},
      "mark": {"type": "rect", "opacity": 0.11},
      "encoding": {
        "x": {
          "field": "s", "type": "temporal", "title": null,
          "scale": {"type": "utc", "domain": [{"year": 2025, "month": 1, "date": 19, "hours": 9, "minutes": 36, "utc": true}, {"year": 2026, "month": 11, "date": 30, "hours": 15, "minutes": 36, "utc": true}]},
          "axis": {
            "values": [
              {"year": 2025, "month": 2, "date": 7, "utc": true},
              {"year": 2025, "month": 3, "date": 20, "utc": true},
              {"year": 2025, "month": 5, "date": 5, "utc": true},
              {"year": 2025, "month": 6, "date": 11, "utc": true},
              {"year": 2025, "month": 7, "date": 18, "utc": true},
              {"year": 2025, "month": 8, "date": 28, "utc": true},
              {"year": 2025, "month": 10, "date": 7, "utc": true},
              {"year": 2025, "month": 11, "date": 17, "utc": true},
              {"year": 2025, "month": 12, "date": 24, "utc": true},
              {"year": 2026, "month": 2, "date": 3, "utc": true},
              {"year": 2026, "month": 3, "date": 13, "utc": true},
              {"year": 2026, "month": 4, "date": 27, "utc": true},
              {"year": 2026, "month": 6, "date": 5, "utc": true},
              {"year": 2026, "month": 7, "date": 15, "utc": true},
              {"year": 2026, "month": 8, "date": 21, "utc": true},
              {"year": 2026, "month": 9, "date": 29, "utc": true}
            ],
            "labelExpr": "utcFormat(datum.value, '%d-%m-%Y')",
            "tickSize": 5, "labelPadding": 2, "labelOverlap": false, "labelFlush": false
          }
        },
        "x2": {"field": "e"},
        "y": {
          "datum": 95155, "type": "quantitative", "title": null,
          "scale": {"domain": [69568, 95846], "nice": false, "zero": false},
          "axis": {
            "orient": "right", "offset": -46, "tickCount": 131,
            "labelExpr": "datum.value % 1000 === 0 ? format(datum.value, '.1f') : ''",
            "labelOverlap": false, "labelFlush": false, "tickSize": 7, "labelPadding": 2,
            "encode": {"ticks": {"update": {"x2": {"signal": "datum.value % 1000 === 0 ? 7 : 3"}}}}
          }
        },
        "y2": {"datum": 69568},
        "color": {"field": "k", "type": "nominal", "legend": null, "scale": {"domain": ["blue", "red", "black"], "range": ["#0000ff", "#ff0000", "#000000"]}}
      }
    },
    {
      "data": {"name": "ohlc"},
      "mark": {"type": "rule", "strokeWidth": 1.4},
      "encoding": {
        "x": {"field": "d", "type": "temporal", "title": null},
        "y": {"field": "l", "type": "quantitative", "title": null},
        "y2": {"field": "h"},
        "color": {"condition": {"test": "datum.c >= datum.o", "value": "#008000"}, "value": "#ff0000"}
      }
    },
    {
      "data": {"name": "ohlc"},
      "mark": {"type": "rule", "strokeWidth": 1.4, "xOffset": -3, "x2Offset": 0},
      "encoding": {
        "x": {"field": "d", "type": "temporal", "title": null},
        "x2": {"field": "d"},
        "y": {"field": "o", "type": "quantitative", "title": null},
        "color": {"condition": {"test": "datum.c >= datum.o", "value": "#008000"}, "value": "#ff0000"}
      }
    },
    {
      "data": {"name": "ohlc"},
      "mark": {"type": "rule", "strokeWidth": 1.4, "xOffset": 0, "x2Offset": 3},
      "encoding": {
        "x": {"field": "d", "type": "temporal", "title": null},
        "x2": {"field": "d"},
        "y": {"field": "c", "type": "quantitative", "title": null},
        "color": {"condition": {"test": "datum.c >= datum.o", "value": "#008000"}, "value": "#ff0000"}
      }
    },
    {
      "data": {"name": "fan"},
      "mark": {"type": "line", "strokeWidth": 1},
      "encoding": {
        "x": {"field": "d", "type": "temporal", "title": null},
        "y": {"field": "p", "type": "quantitative", "title": null},
        "detail": {"field": "g"},
        "color": {"field": "k", "type": "nominal", "legend": null}
      }
    },
    {
      "data": {"name": "vlines"},
      "mark": {"type": "rule", "strokeWidth": 1},
      "encoding": {
        "x": {"field": "d", "type": "temporal", "title": null},
        "y": {"datum": 94188, "type": "quantitative"},
        "y2": {"datum": 69568},
        "color": {"field": "k", "type": "nominal", "legend": null}
      }
    },
    {
      "data": {"name": "vlines"},
      "transform": [{"filter": "datum.lab != ''"}],
      "mark": {"type": "text", "angle": 90, "align": "left", "baseline": "alphabetic", "dy": -4, "fontSize": 11},
      "encoding": {
        "x": {"field": "d", "type": "temporal", "title": null},
        "y": {"datum": 94188, "type": "quantitative"},
        "text": {"field": "lab"}
      }
    },
    {
      "data": {"name": "vlines"},
      "transform": [{"filter": "datum.n != ''"}],
      "mark": {"type": "text", "align": "center", "baseline": "middle", "fontSize": 11},
      "encoding": {
        "x": {"field": "d", "type": "temporal", "title": null},
        "y": {"datum": 94879, "type": "quantitative"},
        "text": {"field": "n"}
      }
    },
    {
      "data": {"values": [{"d": "2025-04-07", "t": "Gann Bars Start"}]},
      "mark": {"type": "text", "align": "center", "baseline": "middle", "fontSize": 11},
      "encoding": {
        "x": {"field": "d", "type": "temporal", "title": null},
        "y": {"datum": 94879, "type": "quantitative"},
        "text": {"field": "t"}
      }
    },
    {
      "data": {"values": [{"d": "2025-04-07", "t": "Mon 7 Apr 25"}]},
      "mark": {"type": "text", "align": "center", "baseline": "middle", "fontSize": 11},
      "encoding": {
        "x": {"field": "d", "type": "temporal", "title": null},
        "y": {"datum": 94430, "type": "quantitative"},
        "text": {"field": "t"}
      }
    },
    {
      "data": {"name": "fan"},
      "transform": [{"filter": "datum.lab && datum.p > 95000"}],
      "mark": {"type": "text", "align": "center", "baseline": "middle", "dx": 17, "dy": 8, "fontSize": 11},
      "encoding": {
        "x": {"field": "d", "type": "temporal", "title": null},
        "y": {"field": "p", "type": "quantitative", "title": null},
        "text": {"field": "lab"}
      }
    },
    {
      "data": {"name": "fan"},
      "transform": [{"filter": "datum.lab && datum.p < 95000"}],
      "mark": {"type": "text", "align": "right", "baseline": "bottom", "dx": -6, "dy": 0, "fontSize": 11},
      "encoding": {
        "x": {"field": "d", "type": "temporal", "title": null},
        "y": {"field": "p", "type": "quantitative", "title": null},
        "text": {"field": "lab"}
      }
    }
  ]
}
